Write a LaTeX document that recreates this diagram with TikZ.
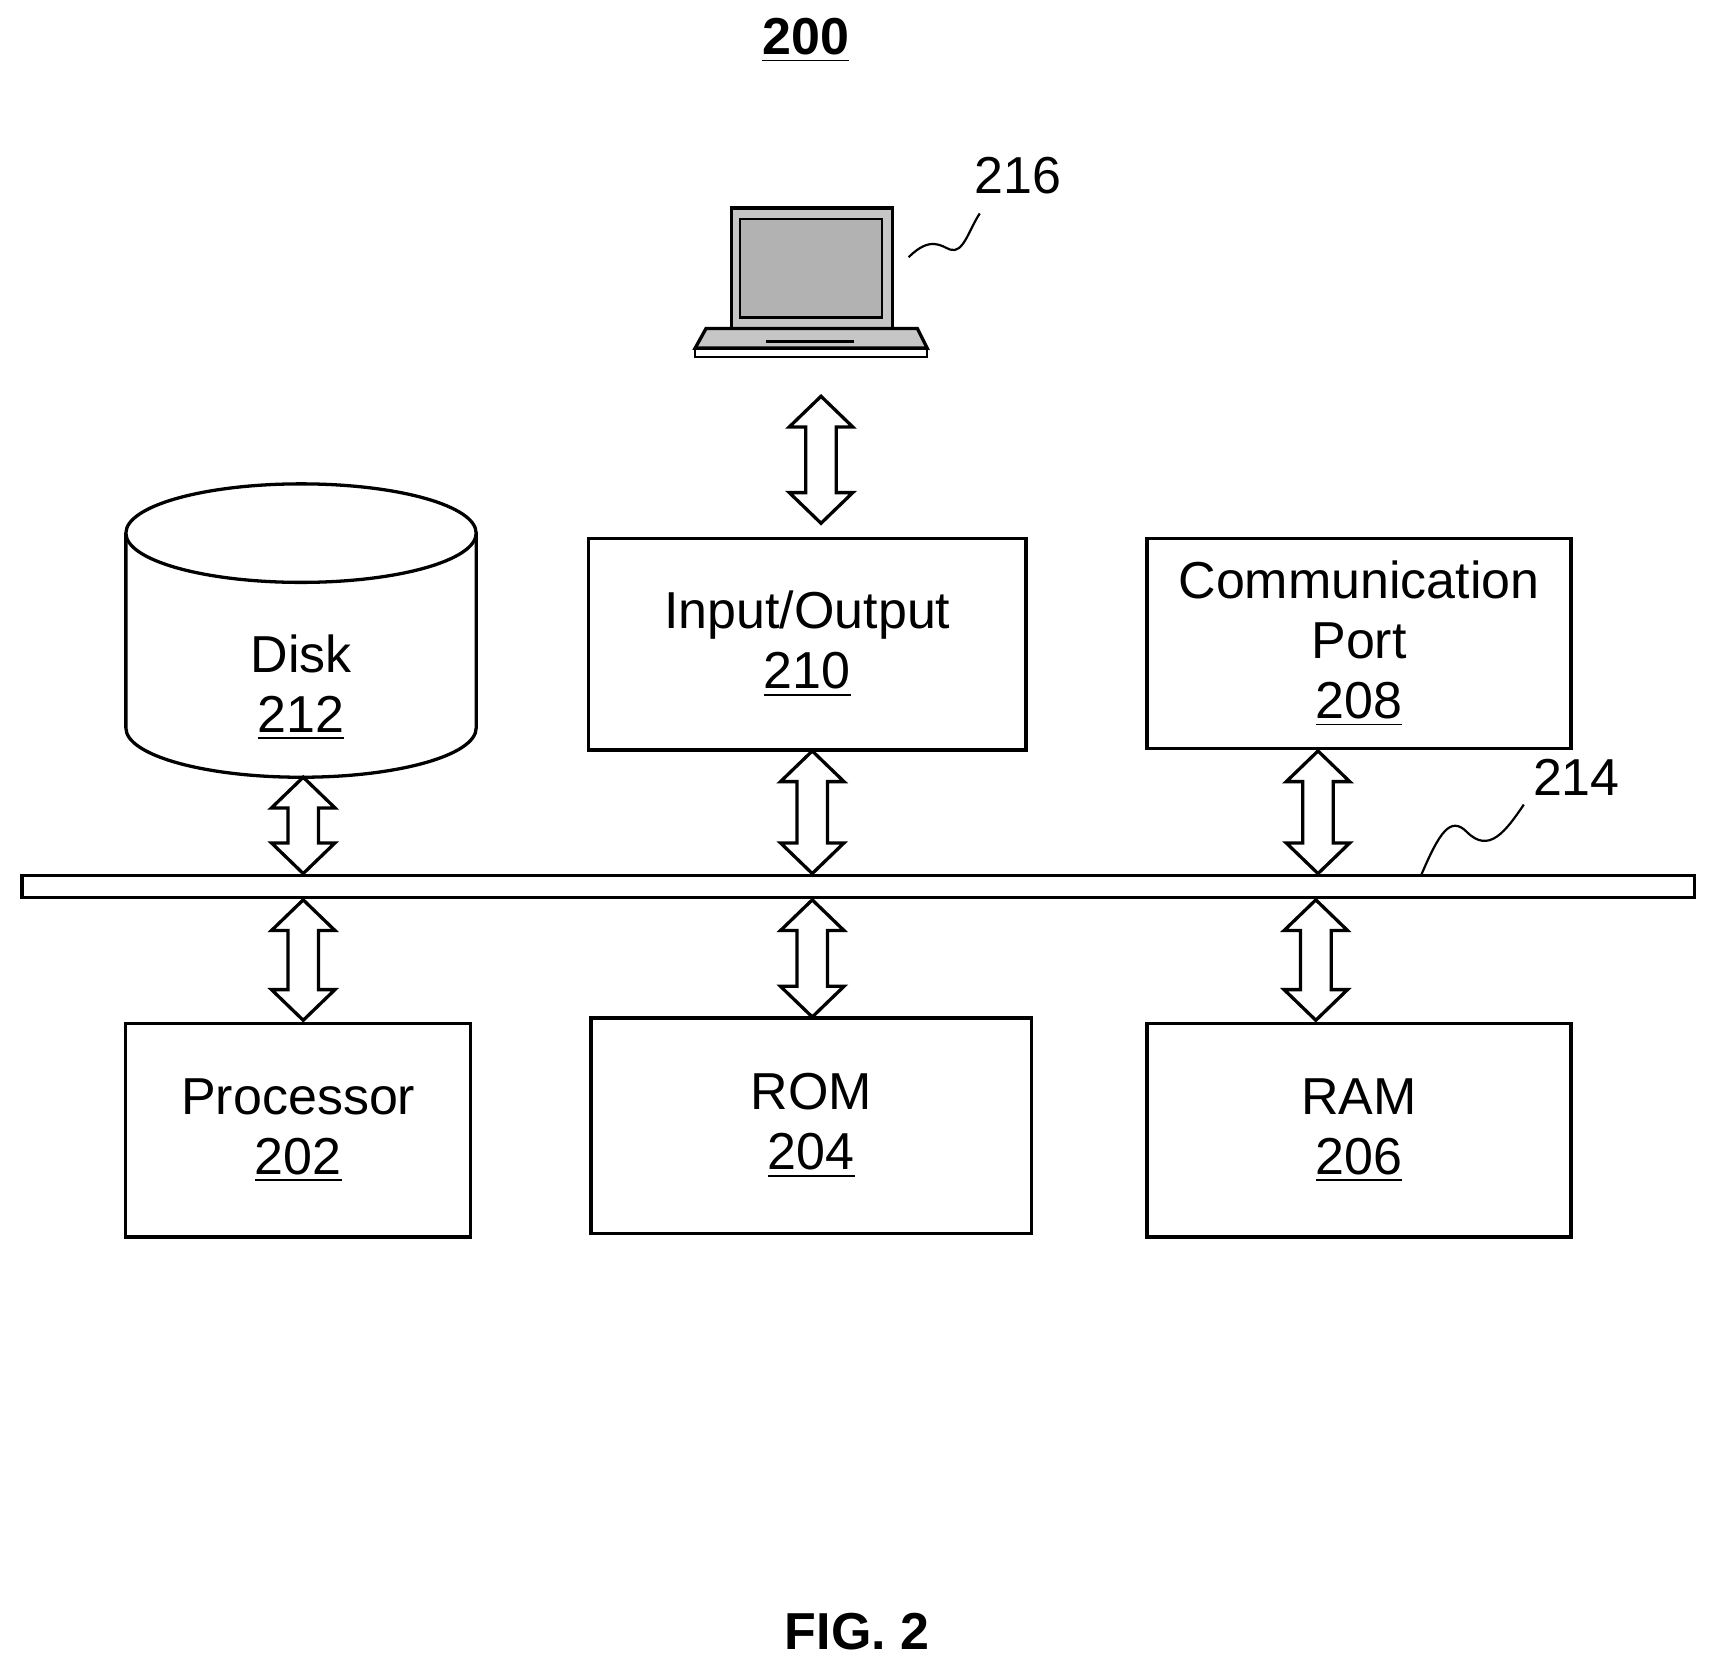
\documentclass[tikz,border=0pt]{standalone}
\usepackage{fontspec}
\setmainfont{Liberation Sans}
\usetikzlibrary{calc}
\tikzset{
  box/.style={draw, line width=0.03cm, align=center, font=\fontsize{13.5}{15.6}\selectfont},
  lbl/.style={font=\fontsize{13.5}{16}\selectfont},
  bus arrow/.style={draw, line width=0.03cm, fill=white, line join=miter}
}
% hollow double arrow between two named coordinates (vertical)
\newcommand{\busarrow}[2]{%
  \draw[bus arrow] (#1) -- ($(#1)+(29,28)$) -- ($(#1)+(14,28)$) -- ($(#2)+(14,-28)$)
    -- ($(#2)+(29,-28)$) -- (#2) -- ($(#2)+(-29,-28)$) -- ($(#2)+(-14,-28)$)
    -- ($(#1)+(-14,28)$) -- ($(#1)+(-29,28)$) -- cycle;}
\begin{document}
\begin{tikzpicture}[x=0.01cm, y=-0.01cm]
  \useasboundingbox (0,0) rectangle (1563,1523);
  \node[lbl, font=\fontsize{13.5}{16}\selectfont\bfseries] (title) at (736,37) {\underline{200}};
  \node[lbl, font=\fontsize{13.5}{16}\selectfont\bfseries] (fig) at (783,1490) {FIG. 2};

  % laptop
  \draw[line width=0.03cm, fill=gray!45] (668,190) rectangle (815,300);
  \draw[line width=0.02cm, fill=gray!60] (676,200) rectangle (806,290);
  \draw[line width=0.03cm, fill=gray!45] (645,300) -- (838,300) -- (847,318) -- (635,318) -- cycle;
  \draw[line width=0.02cm] (635,318) rectangle (847,326);
  \draw[line width=0.02cm] (700,312) -- (780,312);
  \node[lbl] (n216) at (930,160) {216};
  \draw[line width=0.02cm] (830,235) .. controls (850,215) and (860,225) .. (868,228)
    .. controls (880,232) and (885,210) .. (895,195);

  % units
  \node[box, minimum width=3.99cm, minimum height=1.93cm] (io) at (737.5,588.5) {Input/Output\\\underline{210}};
  \node[box, minimum width=3.87cm, minimum height=1.92cm] (comm) at (1241.5,588) {Communication\\Port\\\underline{208}};
  \node[box, minimum width=3.15cm, minimum height=1.95cm] (cpu) at (272.5,1032.5) {Processor\\\underline{202}};
  \node[box, minimum width=4.02cm, minimum height=1.97cm] (rom) at (741,1028.5) {ROM\\\underline{204}};
  \node[box, minimum width=3.87cm, minimum height=1.95cm] (ram) at (1241.5,1032.5) {RAM\\\underline{206}};

  % disk
  \draw[line width=0.03cm, fill=white] (115,487) -- (115,665) arc[start angle=180, end angle=0, x radius=160, y radius=45]
    -- (435,487);
  \draw[line width=0.03cm, fill=white] (275,487) ellipse[x radius=160, y radius=45];
  \node[box, draw=none] (disk) at (275,628) {Disk\\\underline{212}};

  % bus
  \draw[line width=0.03cm] (20,800) rectangle (1548,820);
  \node[lbl] (n214) at (1440,710) {214};
  \draw[line width=0.02cm] (1298,800) .. controls (1315,760) and (1325,745) .. (1340,760)
    .. controls (1360,780) and (1375,760) .. (1392,735);

  % arrows
  \coordinate (ioT) at (750,362); \coordinate (ioB) at (750,478);
  \busarrow{ioT}{ioB}
  \coordinate (dT) at (277,710); \coordinate (dB) at (277,798);
  \busarrow{dT}{dB}
  \coordinate (iT) at (742,686); \coordinate (iB) at (742,798);
  \busarrow{iT}{iB}
  \coordinate (cT) at (1204,686); \coordinate (cB) at (1204,798);
  \busarrow{cT}{cB}
  \coordinate (pT) at (277,822); \coordinate (pB) at (277,932);
  \busarrow{pT}{pB}
  \coordinate (rT) at (742,822); \coordinate (rB) at (742,929);
  \busarrow{rT}{rB}
  \coordinate (aT) at (1202,822); \coordinate (aB) at (1202,932);
  \busarrow{aT}{aB}
\end{tikzpicture}
\end{document}
